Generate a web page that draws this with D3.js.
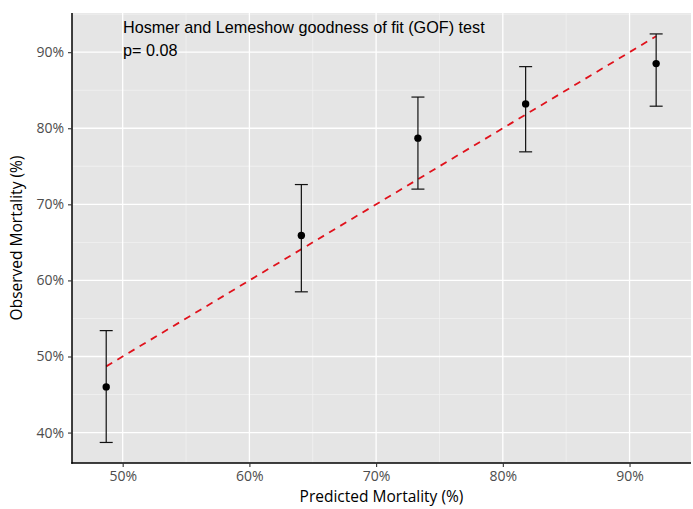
<!DOCTYPE html>
<html>
<head>
<meta charset="utf-8">
<script src="https://cdn.jsdelivr.net/npm/d3@7"></script>
<style>
  body { margin: 0; background: #fff; }
  text { font-family: "Liberation Sans", Arial, sans-serif; }
</style>
</head>
<body>
<svg id="chart" width="693" height="509"></svg>
<script>
// data (percent)
var predicted = [48.7, 64.1, 73.3, 81.8, 92.1];
var observed = [46.0, 65.9, 78.7, 83.2, 88.5];
var lower = [38.7, 58.5, 72.0, 76.9, 82.9];
var upper = [53.4, 72.6, 84.1, 88.1, 92.4];
var xTicks = [50, 60, 70, 80, 90];
var yTicks = [40, 50, 60, 70, 80, 90];
var annotation = ["Hosmer and Lemeshow goodness of fit (GOF) test", "p= 0.08"];

var svg = d3.select("#chart");
var pLeft = 72, pRight = 691, pTop = 13, pBottom = 463;
var sans = "'Open Sans', 'Noto Sans', sans-serif";

var x = d3.scaleLinear().domain([46.0, 94.85]).range([pLeft, pRight]);
var y = d3.scaleLinear().domain([36.0, 95.15]).range([pBottom, pTop]);

// panel
svg.append("rect")
    .attr("x", pLeft).attr("y", pTop)
    .attr("width", pRight - pLeft).attr("height", pBottom - pTop)
    .attr("fill", "#e5e5e5");

// minor grid
var xMinor = [45, 55, 65, 75, 85, 95].filter(function (d) { return d > 46 && d < 94.85; });
var yMinor = [35, 45, 55, 65, 75, 85, 95].filter(function (d) { return d > 36 && d < 95.15; });
svg.append("g").selectAll("line").data(xMinor)
    .enter().append("line")
    .attr("x1", function (d) { return x(d); }).attr("x2", function (d) { return x(d); })
    .attr("y1", pTop).attr("y2", pBottom)
    .attr("stroke", "#f3f3f3").attr("stroke-width", 0.7);
svg.append("g").selectAll("line").data(yMinor)
    .enter().append("line")
    .attr("y1", function (d) { return y(d); }).attr("y2", function (d) { return y(d); })
    .attr("x1", pLeft).attr("x2", pRight)
    .attr("stroke", "#f3f3f3").attr("stroke-width", 0.7);

// major grid
svg.append("g").selectAll("line").data(xTicks)
    .enter().append("line")
    .attr("x1", function (d) { return x(d); }).attr("x2", function (d) { return x(d); })
    .attr("y1", pTop).attr("y2", pBottom)
    .attr("stroke", "#fff").attr("stroke-width", 1.3);
svg.append("g").selectAll("line").data(yTicks)
    .enter().append("line")
    .attr("y1", function (d) { return y(d); }).attr("y2", function (d) { return y(d); })
    .attr("x1", pLeft).attr("x2", pRight)
    .attr("stroke", "#fff").attr("stroke-width", 1.3);

// reference line y = x
var ext = d3.extent(predicted);
svg.append("line")
    .attr("x1", x(ext[0])).attr("y1", y(ext[0]))
    .attr("x2", x(ext[1])).attr("y2", y(ext[1]))
    .attr("stroke", "#e0121c").attr("stroke-width", 1.8)
    .attr("stroke-dasharray", "7,6");

// error bars
var idx = d3.range(predicted.length);
var bars = svg.append("g").attr("stroke", "#111").attr("stroke-width", 1.2);
bars.selectAll(".v").data(idx).enter().append("line")
    .attr("x1", function (i) { return x(predicted[i]); })
    .attr("x2", function (i) { return x(predicted[i]); })
    .attr("y1", function (i) { return y(lower[i]); })
    .attr("y2", function (i) { return y(upper[i]); });
bars.selectAll(".lo").data(idx).enter().append("line")
    .attr("x1", function (i) { return x(predicted[i]) - 6.5; })
    .attr("x2", function (i) { return x(predicted[i]) + 6.5; })
    .attr("y1", function (i) { return y(lower[i]); })
    .attr("y2", function (i) { return y(lower[i]); });
bars.selectAll(".hi").data(idx).enter().append("line")
    .attr("x1", function (i) { return x(predicted[i]) - 6.5; })
    .attr("x2", function (i) { return x(predicted[i]) + 6.5; })
    .attr("y1", function (i) { return y(upper[i]); })
    .attr("y2", function (i) { return y(upper[i]); });

// points
svg.append("g").selectAll("circle").data(idx).enter().append("circle")
    .attr("cx", function (i) { return x(predicted[i]); })
    .attr("cy", function (i) { return y(observed[i]); })
    .attr("r", 3.7)
    .attr("fill", "#000");

// axes
var fmt = function (d) { return d + "%"; };
var xAxis = svg.append("g").attr("transform", "translate(0," + pBottom + ")")
    .call(d3.axisBottom(x).tickValues(xTicks).tickFormat(fmt).tickSizeOuter(0).tickSize(4).tickPadding(4));
var yAxis = svg.append("g").attr("transform", "translate(" + pLeft + ",0)")
    .call(d3.axisLeft(y).tickValues(yTicks).tickFormat(fmt).tickSizeOuter(0).tickSize(4).tickPadding(4));
[xAxis, yAxis].forEach(function (a) {
    a.select(".domain").attr("stroke", "#000").attr("stroke-width", 1.5);
    a.selectAll(".tick line").attr("stroke", "#333").attr("stroke-width", 1.1);
    a.selectAll(".tick text").attr("fill", "#4d4d4d").style("font-size", "14px")
        .style("font-family", sans);
});
// extend domain lines to panel corner
xAxis.select(".domain").attr("d", "M" + (pLeft - 0.75) + ",0H" + pRight);
yAxis.select(".domain").attr("d", "M0," + pTop + "V" + (pBottom + 0.75));

// axis titles
svg.append("text")
    .attr("x", (pLeft + pRight) / 2).attr("y", 502)
    .attr("text-anchor", "middle")
    .style("font-size", "15.5px").style("font-family", sans).attr("fill", "#000")
    .text("Predicted Mortality (%)");
svg.append("text")
    .attr("transform", "translate(22," + ((pTop + pBottom) / 2) + ") rotate(-90)")
    .attr("text-anchor", "middle")
    .style("font-size", "15.5px").style("font-family", sans).attr("fill", "#000")
    .text("Observed Mortality (%)");

// annotation
svg.append("g").selectAll("text").data(annotation).enter().append("text")
    .attr("x", 123).attr("y", function (d, i) { return 33 + i * 23; })
    .style("font-size", "16.2px").attr("fill", "#000")
    .text(function (d) { return d; });
</script>
</body>
</html>
